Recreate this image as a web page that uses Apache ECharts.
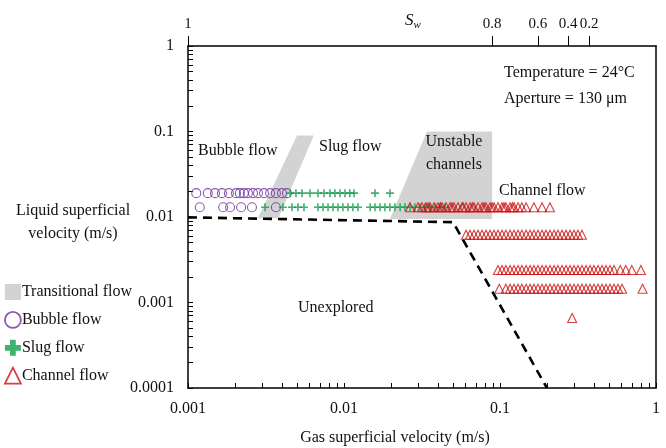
<!DOCTYPE html>
<html><head><meta charset="utf-8">
<script src="https://cdn.jsdelivr.net/npm/echarts@6/dist/echarts.min.js"></script>
<style>html,body{margin:0;padding:0;background:#fff}#c{width:666px;height:448px}</style>
</head><body><div id="c"></div>
<script>
// ---- tick values ----
const xTickValues = [0.001,0.002,0.003,0.004,0.005,0.006,0.007,0.008,0.009,
  0.01,0.02,0.03,0.04,0.05,0.06,0.07,0.08,0.09,
  0.1,0.2,0.3,0.4,0.5,0.6,0.7,0.8,0.9,1];
const yTickValues = [0.0001,0.0002,0.0003,0.0004,0.0005,0.0006,0.0007,0.0008,0.0009,
  0.001,0.002,0.003,0.004,0.005,0.006,0.007,0.008,0.009,
  0.01,0.02,0.03,0.04,0.05,0.06,0.07,0.08,0.09,
  0.1,0.2,0.3,0.4,0.5,0.6,0.7,0.8,0.9,1];
const swLabels = ['1','0.8','0.6','0.4','0.2'];
const swPositions = [0.001, 0.089, 0.175, 0.273, 0.372];

// ---- data ----
const bubbleRow1Y = 0.019;
const bubbleRow1X = [0.00113,0.00134,0.00149,0.00165,0.00183,0.00203,0.00215,0.00228,0.00242,0.00261,0.00281,0.00307,0.00336,0.00366,0.00400,0.00431];
const bubbleRow2Y = 0.013;
const bubbleRow2X = [0.00119,0.00168,0.00186,0.00219,0.00257,0.00366];

const slugRow1Y = 0.019;
const slugRow1X = [0.00451,0.00492,0.00538,0.00605,0.00681,0.00744,0.00813,0.00875,0.00942,0.01015,0.0109,0.0116,0.0158,0.0197];
const slugRow2Y = 0.013;
const slugRow2X = [0.00312,0.00406,0.00464,0.00507,0.00554,0.00681,0.00734,0.0079,0.0085,0.00915,0.00985,0.0106,0.0114,0.0123,
  0.0147,0.0158,0.0170,0.0183,0.0197,0.0212,0.0229,0.0246,0.0265,0.0285,0.0307,0.0330,0.0356,0.0383,0.0412,0.0444];

const channelRowAY = 0.013;
const channelRowAX = [0.0265,0.0298,0.0316,0.0335,0.0345,0.0356,0.0378,0.0400,0.0415,0.0425,0.0451,0.0478,0.0492,0.0507,0.0538,0.0571,0.058,0.0606,
  0.0642,0.0665,0.0681,0.0723,0.0767,0.079,0.0814,0.0863,0.089,0.0916,0.0971,0.103,0.106,0.109,0.116,0.12,0.123,0.1305,0.138,0.147,0.165,0.186,0.209];
const channelRowBY = 0.0062;
const channelRowBX = [0.0606,0.0642,0.0681,0.0723,0.0767,0.0814,0.0863,0.0916,0.0971,0.103,0.109,0.116,0.123,0.1305,0.138,0.147,
  0.156,0.165,0.175,0.186,0.197,0.209,0.222,0.235,0.250,0.265,0.281,0.298,0.316,0.335];
const channelRowCY = 0.0024;
const channelRowCX = [0.0971,0.103,0.109,0.116,0.123,0.1305,0.138,0.147,0.156,0.165,0.175,0.186,0.197,0.209,0.222,0.235,0.250,0.265,
  0.281,0.298,0.316,0.335,0.356,0.378,0.400,0.425,0.451,0.478,0.507,0.538,0.59,0.64,0.70,0.80];
const channelRowDY = 0.00145;
const channelRowDX = [0.099,0.109,0.116,0.123,0.1305,0.138,0.147,0.156,0.165,0.175,0.186,0.197,0.209,0.222,0.235,0.250,0.265,0.281,
  0.298,0.316,0.335,0.356,0.378,0.400,0.425,0.451,0.478,0.507,0.538,0.571,0.606,0.82];
const channelExtraX = [0.29];
const channelExtraY = [0.00066];

const boundaryX = [0.001, 0.05, 0.2];
const boundaryY = [0.0099, 0.0087, 0.0001];

const transPolyA = [[0.0050,0.09],[0.0064,0.09],[0.0038,0.0097],[0.0028,0.0097]];
const transPolyB = [[0.034,0.1],[0.089,0.1],[0.089,0.0095],[0.0197,0.0095]];

// ---- build ----
const row = (xs, y) => xs.map(x => [x, y]);
const bubbleData = row(bubbleRow1X, bubbleRow1Y).concat(row(bubbleRow2X, bubbleRow2Y));
const slugData = row(slugRow1X, slugRow1Y).concat(row(slugRow2X, slugRow2Y));
const channelData = row(channelRowAX, channelRowAY).concat(row(channelRowBX, channelRowBY),
  row(channelRowCX, channelRowCY), row(channelRowDX, channelRowDY), channelExtraX.map((x,i)=>[x, channelExtraY[i]]));
const boundaryData = boundaryX.map((x,i)=>[x, boundaryY[i]]);
const transPolys = [transPolyA, transPolyB];

const FONT = '"Liberation Serif", "Times New Roman", serif';
const TXT = '#111';
const PLUS = 'path://M4,0H6V4H10V6H6V10H4V6H0V4H4Z';
const PLUS_BOLD = 'path://M3.2,0H6.8V3.2H10V6.8H6.8V10H3.2V6.8H0V3.2H3.2Z';
const fmt = v => String(Number(Number(v).toPrecision(3)));

const chart = echarts.init(document.getElementById('c'), null, {renderer:'canvas'});
chart.setOption({
  animation: false,
  backgroundColor: '#fff',
  grid: {left: 188, right: 10, top: 46, bottom: 60, outerBoundsMode: 'none', containLabel: false},
  legend: {
    orient: 'vertical', left: 4, top: 284, padding: 0, itemGap: 11, itemWidth: 16, itemHeight: 16,
    textStyle: {fontFamily: FONT, fontSize: 16, color: TXT, padding: [0,0,0,-4]},
    data: [
      {name: 'Transitional flow', icon: 'rect', itemStyle: {color: '#d3d3d3'}},
      {name: 'Bubble flow', icon: 'circle', itemStyle: {color: 'rgba(0,0,0,0)', borderColor: '#7030A0', borderWidth: 1.8}},
      {name: 'Slug flow', icon: PLUS_BOLD, itemStyle: {color: '#0f9d4c'}},
      {name: 'Channel flow', icon: 'triangle', itemStyle: {color: 'rgba(0,0,0,0)', borderColor: '#cc1010', borderWidth: 1.8}}
    ]
  },
  xAxis: [{
    type: 'log', logBase: 10, min: 0.001, max: 1, position: 'bottom',
    axisLine: {lineStyle: {color: '#000', width: 1.5}},
    axisTick: {inside: true, length: 5, customValues: xTickValues, lineStyle: {color: '#000', width: 1}},
    axisLabel: {fontFamily: FONT, fontSize: 16, color: TXT, margin: 13, formatter: fmt},
    splitLine: {show: false},
    name: 'Gas superficial velocity (m/s)', nameLocation: 'middle', nameGap: 42,
    nameTextStyle: {fontFamily: FONT, fontSize: 16, color: TXT, padding: [0, 54, 0, 0]}
  }, {
    type: 'log', logBase: 10, min: 0.001, max: 1, position: 'top',
    axisLine: {lineStyle: {color: '#000', width: 1.5}},
    axisTick: {inside: false, length: 10, customValues: swPositions, lineStyle: {color: '#000', width: 1}},
    axisLabel: {fontFamily: FONT, fontSize: 15, color: TXT, margin: 14, customValues: swPositions,
      formatter: v => { let best = 0, d = 1e9; swPositions.forEach((p,i)=>{const e=Math.abs(Math.log10(p)-Math.log10(v)); if(e<d){d=e;best=i;}}); return swLabels[best]; }},
    splitLine: {show: false}
  }],
  yAxis: [{
    type: 'log', logBase: 10, min: 0.0001, max: 1,
    axisLine: {lineStyle: {color: '#000', width: 1.5}},
    axisTick: {inside: true, length: 5, customValues: yTickValues, lineStyle: {color: '#000', width: 1}},
    axisLabel: {fontFamily: FONT, fontSize: 16, color: TXT, margin: 14, formatter: fmt},
    splitLine: {show: false}
  }, {
    type: 'log', logBase: 10, min: 0.0001, max: 1, position: 'right',
    axisLine: {show: true, lineStyle: {color: '#000', width: 1.5}},
    axisTick: {show: false}, axisLabel: {show: false}, splitLine: {show: false}
  }],
  series: [{
    name: 'Transitional flow', type: 'custom', silent: true, z: 1,
    data: transPolys.map(p => p[0]),
    renderItem: (params, api) => {
      const pts = transPolys[params.dataIndex].map(p => api.coord(p));
      return {type: 'polygon', shape: {points: pts}, style: {fill: '#d3d3d3'}};
    }
  }, {
    name: 'boundary', type: 'line', data: boundaryData, symbol: 'none', z: 2, silent: true,
    lineStyle: {color: '#000', width: 2.6, type: [9, 6]}
  }, {
    name: 'Bubble flow', type: 'scatter', data: bubbleData, symbol: 'circle', symbolSize: 9, z: 3,
    itemStyle: {color: 'rgba(0,0,0,0)', borderColor: '#7030A0', borderWidth: 1.1}
  }, {
    name: 'Slug flow', type: 'scatter', data: slugData, symbol: PLUS, symbolSize: 8, z: 4,
    itemStyle: {color: '#0f9d4c'}
  }, {
    name: 'Channel flow', type: 'scatter', data: channelData, symbol: 'triangle', symbolSize: 9, z: 5,
    itemStyle: {color: 'rgba(0,0,0,0)', borderColor: '#cc1010', borderWidth: 1.1}
  }],
  graphic: [
    {type: 'text', x: 73, y: 222, z: 10, style: {text: 'Liquid superficial\nvelocity (m/s)', font: '16px ' + FONT, fill: TXT, align: 'center', verticalAlign: 'middle', lineHeight: 23}},
    {type: 'text', x: 413, y: 21, z: 10, style: {text: '{s|S}{w|w}', align: 'center', verticalAlign: 'middle',
      rich: {s: {fontFamily: FONT, fontSize: 17, fontStyle: 'italic', fill: TXT}, w: {fontFamily: FONT, fontSize: 11, fontStyle: 'italic', fill: TXT, padding: [9,0,0,0]}}}},
    {type: 'text', x: 198, y: 151, z: 10, style: {text: 'Bubble flow', font: '16px ' + FONT, fill: TXT, verticalAlign: 'middle'}},
    {type: 'text', x: 319, y: 147, z: 10, style: {text: 'Slug flow', font: '16px ' + FONT, fill: TXT, verticalAlign: 'middle'}},
    {type: 'text', x: 454, y: 153, z: 10, style: {text: 'Unstable\nchannels', font: '16px ' + FONT, fill: TXT, align: 'center', verticalAlign: 'middle', lineHeight: 23}},
    {type: 'text', x: 499, y: 191, z: 10, style: {text: 'Channel flow', font: '16px ' + FONT, fill: TXT, verticalAlign: 'middle'}},
    {type: 'text', x: 298, y: 308, z: 10, style: {text: 'Unexplored', font: '16px ' + FONT, fill: TXT, verticalAlign: 'middle'}},
    {type: 'text', x: 504, y: 73, z: 10, style: {text: 'Temperature = 24°C', font: '16px ' + FONT, fill: TXT, verticalAlign: 'middle'}},
    {type: 'text', x: 504, y: 99, z: 10, style: {text: 'Aperture = 130 μm', font: '16px ' + FONT, fill: TXT, verticalAlign: 'middle'}}
  ]
});
</script></body></html>
